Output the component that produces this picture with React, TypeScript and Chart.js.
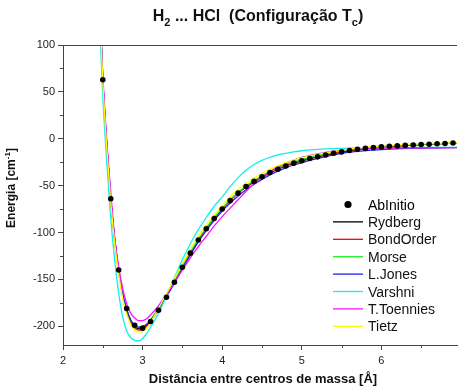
import { useEffect, useRef } from 'react';
import { Chart, registerables } from 'chart.js';

Chart.register(...registerables);

// ---------- data ----------
const rGrid = [2.45, 2.5, 2.55, 2.6, 2.65, 2.7, 2.75, 2.8, 2.85, 2.9, 2.95, 3.0, 3.05, 3.1, 3.2, 3.3, 3.4, 3.5, 3.6, 3.7, 3.8, 3.9, 4.0, 4.1, 4.2, 4.3, 4.4, 4.5, 4.6, 4.7, 4.8, 4.9, 5.0, 5.15, 5.3, 5.45, 5.6, 5.8, 6.0, 6.25, 6.5, 6.75, 7.0];

const rydberg = [165, 62, -8, -65, -108, -141, -166, -183, -194, -200, -202.5, -202, -199, -194, -181, -167, -152, -137, -122, -108, -96, -85, -75, -66, -58, -51.5, -46, -41, -36.5, -32.5, -29, -26, -23.5, -20.3, -17.5, -15.1, -13, -10.8, -9, -7.5, -6.3, -5.3, -4.5];
const bondOrder = [167, 63, -7, -65, -109, -142, -168, -185, -196, -202, -204, -203, -200, -195, -182, -168, -153, -138, -123, -109, -96, -85, -75, -66, -58, -51.3, -45.5, -40.5, -36, -32, -28.5, -25.6, -23, -19.8, -17, -14.6, -12.5, -10.4, -8.7, -7.2, -6, -5.1, -4.3];
const morse = [163, 61, -9, -66, -108, -140, -165, -182, -193, -199, -201.5, -201, -198, -193, -180, -166, -151, -136, -121, -107, -95, -84, -74, -65, -57, -50.3, -44.5, -39.5, -35, -31, -27.5, -24.6, -22, -18.8, -16, -13.6, -11.5, -9.6, -8, -6.8, -5.8, -5.1, -4.5];
const lJones = [170, 64, -6, -64, -107, -140, -165, -182, -193, -199, -201, -200.5, -198, -194, -182, -168, -154, -139, -124, -110, -98, -87, -77, -68.5, -61, -54.5, -48.5, -43.3, -38.5, -34.5, -31, -28, -25.5, -22, -19, -16.4, -14.3, -12.6, -11.5, -10.6, -10, -9.6, -9.3];
const varshni = [145, 45, -25, -85, -130, -165, -190, -205, -212, -215, -215.5, -213, -208, -201, -186, -168, -148, -129, -112, -97, -84, -72, -62, -51, -41.5, -33.5, -27.5, -23, -19.8, -17.3, -15.5, -14, -12.8, -11.6, -10.8, -10.2, -9.9, -9.7, -9.5, -9.4, -9.3, -9.25, -9.2];
const tToennies = [165, 68, -2, -57, -106, -137, -160, -176, -186, -191, -194, -194, -192, -188, -178, -166, -153, -140, -127, -115, -104, -93, -83, -74, -65, -56, -48, -41, -35, -30, -26, -22.8, -20, -17, -14.5, -12.8, -11.6, -10.6, -10, -9.8, -9.6, -9.5, -9.5];
const tietz = [165, 61, -10, -68, -112, -145, -170, -187, -198, -204, -206, -205.5, -202, -196, -181, -165, -149, -133, -118, -104, -92, -81, -71, -62, -54, -47.5, -42, -37, -32.5, -28.7, -25.5, -22.8, -20.5, -17.5, -15, -12.9, -11, -9.1, -7.5, -6.3, -5.3, -4.6, -4];

const abR = [2.5, 2.6, 2.7, 2.8, 2.9, 3.0, 3.1, 3.2, 3.3, 3.4, 3.5, 3.6, 3.7, 3.8, 3.9, 4.0, 4.1, 4.2, 4.3, 4.4, 4.5, 4.6, 4.7, 4.8, 4.9, 5.0, 5.1, 5.2, 5.3, 5.4, 5.5, 5.6, 5.7, 5.8, 5.9, 6.0, 6.1, 6.2, 6.3, 6.4, 6.5, 6.6, 6.7, 6.8, 6.9];
const abE = [63, -64, -140, -181, -199, -202, -195, -183, -169, -153, -137, -122, -108, -96, -85, -75, -66, -58, -51, -45.5, -40.5, -36, -32.5, -29, -26, -23.5, -21, -19.3, -17.3, -15.5, -14, -12.5, -11.3, -10.3, -9.5, -8.7, -8.1, -7.6, -7.1, -6.6, -6.2, -5.8, -5.4, -5.0, -4.6];

const xTicks = [2, 3, 4, 5, 6];
const xMinorTicks = [2.5, 3.5, 4.5, 5.5, 6.5];
const yTicks = [-200, -150, -100, -50, 0, 50, 100];
const yMinorTicks = [-175, -125, -75, -25, 25, 75];

const modelNames = ['Rydberg', 'BondOrder', 'Morse', 'L.Jones', 'Varshni', 'T.Toennies', 'Tietz'];
const modelColors = ['#000000', '#ff0000', '#22ee22', '#2222ee', '#11eeee', '#ff11ff', '#ffff00'];
const modelValues = [rydberg, bondOrder, morse, lJones, varshni, tToennies, tietz];

const FONT = '"Liberation Sans", Arial, Helvetica, sans-serif';
const AXIS = '#444444';

type Seg = { t: string; s?: 'sub' | 'sup' };

function drawRich(ctx: CanvasRenderingContext2D, segs: Seg[], x: number, y: number, size: number, bold: boolean, align: 'center' | 'left') {
  const w = bold ? 'bold ' : '';
  const big = `${w}${size}px ${FONT}`;
  const small = `${w}${Math.round(size * 0.68)}px ${FONT}`;
  let total = 0;
  for (const s of segs) {
    ctx.font = s.s ? small : big;
    total += ctx.measureText(s.t).width;
  }
  let cx = align === 'center' ? x - total / 2 : x;
  ctx.textAlign = 'left';
  ctx.textBaseline = 'alphabetic';
  for (const s of segs) {
    ctx.font = s.s ? small : big;
    const dy = s.s === 'sub' ? size * 0.33 : s.s === 'sup' ? -size * 0.42 : 0;
    ctx.fillText(s.t, cx, y + dy);
    cx += ctx.measureText(s.t).width;
  }
}

const decorPlugin = {
  id: 'decor',
  afterDraw(chart: any) {
    const { ctx, chartArea: ca, scales } = chart;
    const x = scales.x;
    const y = scales.y;
    ctx.save();
    ctx.strokeStyle = AXIS;
    ctx.lineWidth = 1;
    // top frame line
    ctx.beginPath();
    ctx.moveTo(ca.left, Math.round(ca.top) + 0.5);
    ctx.lineTo(ca.right, Math.round(ca.top) + 0.5);
    ctx.stroke();
    // minor ticks
    ctx.beginPath();
    for (const v of xMinorTicks) {
      const px = Math.round(x.getPixelForValue(v)) + 0.5;
      ctx.moveTo(px, ca.bottom);
      ctx.lineTo(px, ca.bottom + 3);
    }
    for (const v of yMinorTicks) {
      const py = Math.round(y.getPixelForValue(v)) + 0.5;
      ctx.moveTo(ca.left - 3, py);
      ctx.lineTo(ca.left, py);
    }
    ctx.stroke();

    ctx.fillStyle = '#111111';
    // title
    drawRich(ctx, [
      { t: 'H' }, { t: '2', s: 'sub' }, { t: ' ... HCl  (Configuração T' }, { t: 'c', s: 'sub' }, { t: ')' },
    ], 258, 21, 16, true, 'center');
    // x title
    drawRich(ctx, [{ t: 'Distância entre centros de massa [Å]' }], (ca.left + ca.right) / 2 + 3, 383, 13, true, 'center');
    // y title
    ctx.save();
    ctx.translate(15, 188);
    ctx.rotate(-Math.PI / 2);
    drawRich(ctx, [{ t: 'Energia [cm' }, { t: '-1', s: 'sup' }, { t: ']' }], 0, 0, 12, true, 'center');
    ctx.restore();

    // legend
    const lx0 = 333, lx1 = 363, tx = 368;
    const rowY = (i: number) => 204.5 + i * 17.4;
    ctx.fillStyle = '#000000';
    ctx.beginPath();
    ctx.arc(348, rowY(0), 3.6, 0, Math.PI * 2);
    ctx.fill();
    drawRich(ctx, [{ t: 'AbInitio' }], tx, rowY(0) + 5, 14, false, 'left');
    modelNames.forEach((name, i) => {
      const yy = rowY(i + 1);
      ctx.strokeStyle = modelColors[i];
      ctx.lineWidth = 1.3;
      ctx.beginPath();
      ctx.moveTo(lx0, yy);
      ctx.lineTo(lx1, yy);
      ctx.stroke();
      ctx.fillStyle = '#111111';
      drawRich(ctx, [{ t: name }], tx, yy + 5, 14, false, 'left');
    });
    ctx.restore();
  },
};

export default function App() {
  const ref = useRef<HTMLCanvasElement | null>(null);

  useEffect(() => {
    if (!ref.current) return;
    const datasets: any[] = [
      {
        label: 'AbInitio',
        data: abR.map((r, i) => ({ x: r, y: abE[i] })),
        showLine: false,
        pointRadius: 2.8,
        pointBackgroundColor: '#000000',
        pointBorderColor: '#000000',
        pointBorderWidth: 0,
        order: 0,
      },
      ...modelNames.map((name, k) => ({
        label: name,
        data: rGrid.map((r, i) => ({ x: r, y: modelValues[k][i] })),
        showLine: true,
        borderColor: modelColors[k],
        backgroundColor: modelColors[k],
        borderWidth: 1.3,
        pointRadius: 0,
        fill: false,
        cubicInterpolationMode: 'monotone',
        order: 8 - k,
      })),
    ];

    const chart = new Chart(ref.current, {
      type: 'scatter',
      data: { datasets },
      options: {
        animation: false,
        responsive: false,
        maintainAspectRatio: false,
        devicePixelRatio: 1,
        layout: { padding: { top: 45, right: 1, left: 0, bottom: 0 } },
        plugins: { legend: { display: false }, title: { display: false }, tooltip: { enabled: false } },
        scales: {
          x: {
            type: 'linear',
            min: 2,
            max: 6.95,
            afterBuildTicks: (s: any) => { s.ticks = xTicks.map((v) => ({ value: v })); },
            afterFit: (s: any) => { s.height = 47; },
            grid: { drawOnChartArea: false, drawTicks: true, tickLength: 5, color: AXIS, tickColor: AXIS },
            border: { color: AXIS, width: 1 },
            ticks: { color: '#222222', font: { family: FONT, size: 11 }, padding: 4, maxRotation: 0 },
          },
          y: {
            type: 'linear',
            min: -220,
            max: 100,
            afterBuildTicks: (s: any) => { s.ticks = yTicks.map((v) => ({ value: v })); },
            afterFit: (s: any) => { s.width = 63; },
            grid: { drawOnChartArea: false, drawTicks: true, tickLength: 5, color: AXIS, tickColor: AXIS },
            border: { color: AXIS, width: 1 },
            ticks: { color: '#222222', font: { family: FONT, size: 11 }, padding: 3 },
          },
        },
      },
      plugins: [decorPlugin],
    });
    return () => chart.destroy();
  }, []);

  return (
    <div style={{ position: 'fixed', left: 0, top: 0, width: 461, height: 392, background: '#ffffff' }}>
      <canvas ref={ref} width={461} height={392} style={{ width: 461, height: 392, display: 'block' }} />
    </div>
  );
}
